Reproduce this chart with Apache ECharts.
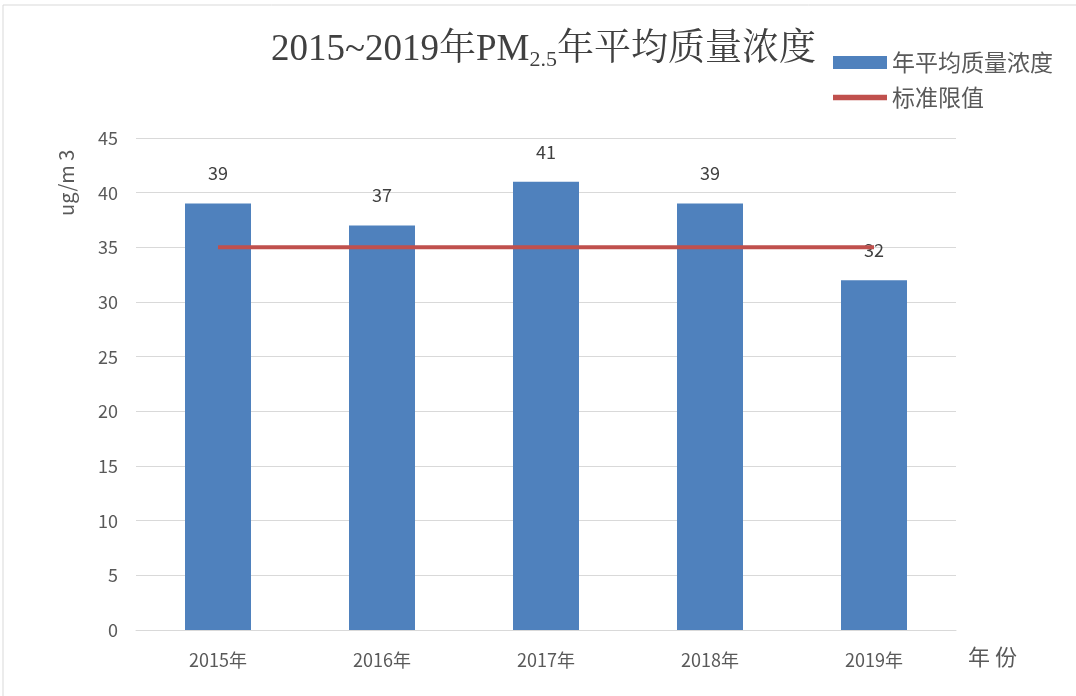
<!DOCTYPE html>
<html>
<head>
<meta charset="utf-8">
<style>
    html,body{margin:0;padding:0;background:#fff;}
    #chart{width:1076px;height:696px;}
</style>
<script src="https://cdn.jsdelivr.net/npm/echarts@6/dist/echarts.min.js"></script>
</head>
<body>
<div id="chart"></div>
<script>
    // 年份
    var years = ['2015年', '2016年', '2017年', '2018年', '2019年'];
    // 年平均质量浓度
    var avgValues = [39, 37, 41, 39, 32];
    // 标准限值
    var limitValues = [35, 35, 35, 35, 35];

    var font = '"Microsoft YaHei","Noto Sans CJK SC",sans-serif';
    var chart = echarts.init(document.getElementById('chart'));
    var option = {
        animation: false,
        title: {
            text: '2015~2019年PM{sub|2.5}年平均质量浓度',
            left: 266,
            top: 24,
            textStyle: {
                fontFamily: '"Liberation Serif","Noto Serif CJK SC","Noto Sans CJK SC",serif',
                fontSize: 37,
                fontWeight: 'normal',
                color: '#404040',
                rich: {
                    sub: {
                        fontFamily: '"Liberation Serif",serif',
                        fontSize: 22,
                        color: '#404040',
                        padding: [20, 0, 0, 0]
                    }
                }
            }
        },
        legend: {
            orient: 'vertical',
            left: 828,
            top: 46,
            itemGap: 12,
            itemWidth: 54,
            itemHeight: 13,
            textStyle: {fontFamily: font, fontSize: 23, color: '#595959'},
            data: [
                {name: '年平均质量浓度', icon: 'rect'},
                {name: '标准限值', icon: 'path://M0,0 L10,0 L10,1 L0,1 Z'}
            ]
        },
        grid: {left: 136, right: 120, top: 138, bottom: 66},
        xAxis: {
            type: 'category',
            data: years,
            axisLine: {lineStyle: {color: '#d9d9d9'}},
            axisTick: {show: false},
            axisLabel: {fontFamily: font, fontSize: 18, color: '#595959', margin: 21}
        },
        yAxis: {
            type: 'value',
            min: 0,
            max: 45,
            interval: 5,
            axisLine: {show: false},
            axisTick: {show: false},
            axisLabel: {fontFamily: font, fontSize: 18, color: '#595959', margin: 18},
            splitLine: {lineStyle: {color: '#d9d9d9'}}
        },
        graphic: [
            {
                type: 'rect',
                shape: {x: 3, y: 5, width: 1090, height: 700},
                style: {fill: 'none', stroke: '#d9d9d9', lineWidth: 1},
                silent: true
            },
            {
                type: 'text',
                x: 56, y: 216,
                rotation: Math.PI / 2,
                style: {text: 'ug/m 3', fontFamily: font, fontSize: 20, fill: '#595959'}
            },
            {
                type: 'text',
                x: 968, y: 646,
                style: {text: '年 份', fontFamily: font, fontSize: 22, fill: '#595959'}
            }
        ],
        series: [
            {
                name: '年平均质量浓度',
                type: 'bar',
                data: avgValues,
                barWidth: 66,
                itemStyle: {color: '#4f81bd'},
                label: {
                    show: true,
                    position: 'top',
                    distance: 21,
                    fontFamily: font,
                    fontSize: 18,
                    color: '#404040'
                },
                z: 2
            },
            {
                name: '标准限值',
                type: 'line',
                data: limitValues,
                symbol: 'none',
                lineStyle: {color: '#c0504d', width: 4},
                itemStyle: {color: '#c0504d'},
                z: 3
            }
        ]
    };
    chart.setOption(option);
</script>
</body>
</html>
